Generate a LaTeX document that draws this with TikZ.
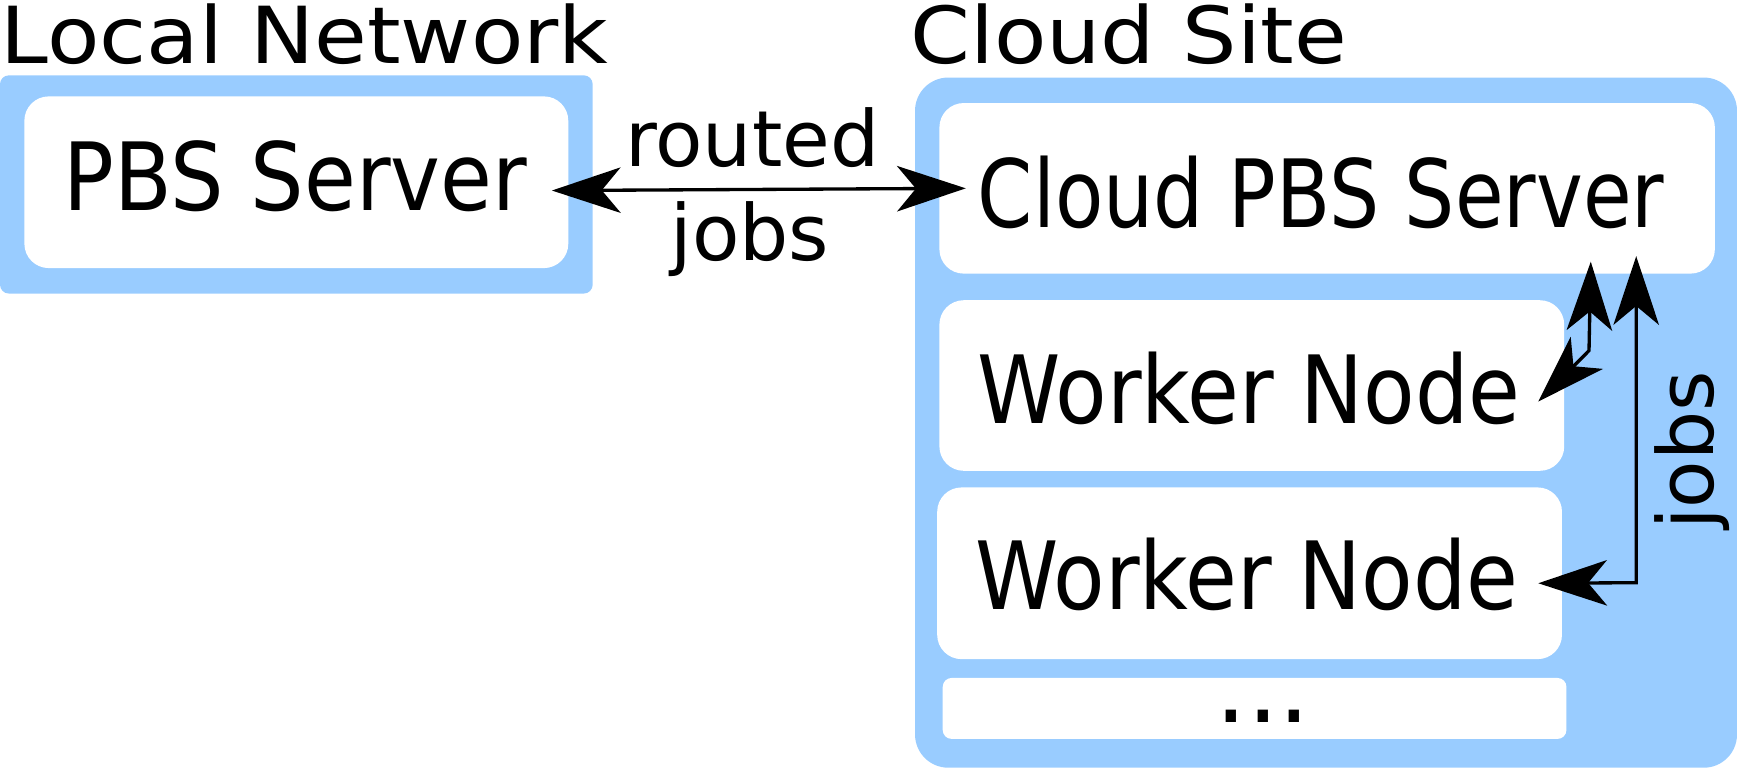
\documentclass[tikz,border=0pt]{standalone}
\usepackage{fontspec}
\setmainfont{DejaVu Sans}
\newfontfamily\titlefont[FakeStretch=1.09]{DejaVu Sans}
\newfontfamily\boxfont[FakeStretch=0.895]{DejaVu Sans}
\newfontfamily\cboxfont[FakeStretch=0.84]{DejaVu Sans}
\usetikzlibrary{arrows.meta,calc}
\definecolor{cloudblue}{RGB}{153,204,255}
\begin{document}
\begin{tikzpicture}[x=1pt,y=-1pt,
  region/.style={fill=cloudblue, draw=none, inner sep=0pt, rectangle},
  wbox/.style={fill=white, draw=none, inner sep=0pt, rectangle, rounded corners=22pt},
  titletext/.style={anchor=base, inner sep=0pt, font=\titlefont\fontsize{71}{75}\selectfont},
  boxlabel/.style={anchor=base, inner sep=0pt, font=\boxfont\fontsize{85}{90}\selectfont},
  cboxlabel/.style={anchor=base, inner sep=0pt, font=\cboxfont\fontsize{85}{90}\selectfont},
  dotlabel/.style={anchor=base, inner sep=0pt, font=\fontsize{90}{95}\selectfont},
  edgelabel/.style={anchor=base, inner sep=0pt, font=\fontsize{70}{75}\selectfont},
  bigtip/.tip={Stealth[length=62pt,width=41pt,inset=17pt]},
  dblarrow/.style={line width=3pt, bigtip-bigtip}
]
\useasboundingbox (0,0) rectangle (1568,693);

% regions
\node[region, rounded corners=8pt, minimum width=535pt, minimum height=197pt] (local) at (267.5,166.5) {};
\node[region, rounded corners=30pt, minimum width=742pt, minimum height=623pt] (cloud) at (1197,381.5) {};

% white boxes
\node[wbox, minimum width=491pt, minimum height=155pt] (pbs) at (267.5,164.5) {};
\node[wbox, minimum width=700pt, minimum height=154pt] (cpbs) at (1198,170) {};
\node[wbox, minimum width=564pt, minimum height=154pt] (w1) at (1130,348) {};
\node[wbox, minimum width=564pt, minimum height=155pt] (w2) at (1128,517.5) {};
\node[wbox, rounded corners=8pt, minimum width=563pt, minimum height=55pt] (more) at (1132.5,639.5) {};

% titles
\node[titletext] (tlocal) at (275,57) {Local Network};
\node[titletext] (tcloud) at (1019,57) {Cloud Site};

% box labels
\node[boxlabel] (lpbs) at (266.5,190) {PBS Server};
\node[cboxlabel] (lcpbs) at (1192.5,205) {Cloud PBS Server};
\node[boxlabel] (lw1) at (1127.5,382) {Worker Node};
\node[boxlabel] (lw2) at (1125.5,550) {Worker Node};
\node[dotlabel] (lmore) at (1140,652) {...};

% edge labels
\node[edgelabel] (lrouted) at (679,150) {routed};
\node[edgelabel] (ljobs) at (677,235) {jobs};
\node[edgelabel, rotate=90] (ljobsv) at (1546.5,406.5) {jobs};

% arrow end points
\coordinate (hL) at ($(pbs.east)+(-15,7.5)$);
\coordinate (hR) at ($(cpbs.west)+(24,0)$);
\coordinate (aW) at ($(w1.east)+(-23.6,14.5)$);
\coordinate (aK) at (1434.4,316.5);
\coordinate (aS) at ($(cpbs.south)+(238,-11)$);
\coordinate (bS) at ($(cpbs.south)+(279,-16)$);
\coordinate (bK) at (1477,526);
\coordinate (bW) at ($(w2.east)+(-21.6,9)$);

% arrows
\draw[dblarrow] (hL) -- (hR);
\draw[dblarrow] (aW) -- (aK) -- (aS);
\draw[dblarrow] (bW) -- (bK) -- (bS);
\end{tikzpicture}
\end{document}
